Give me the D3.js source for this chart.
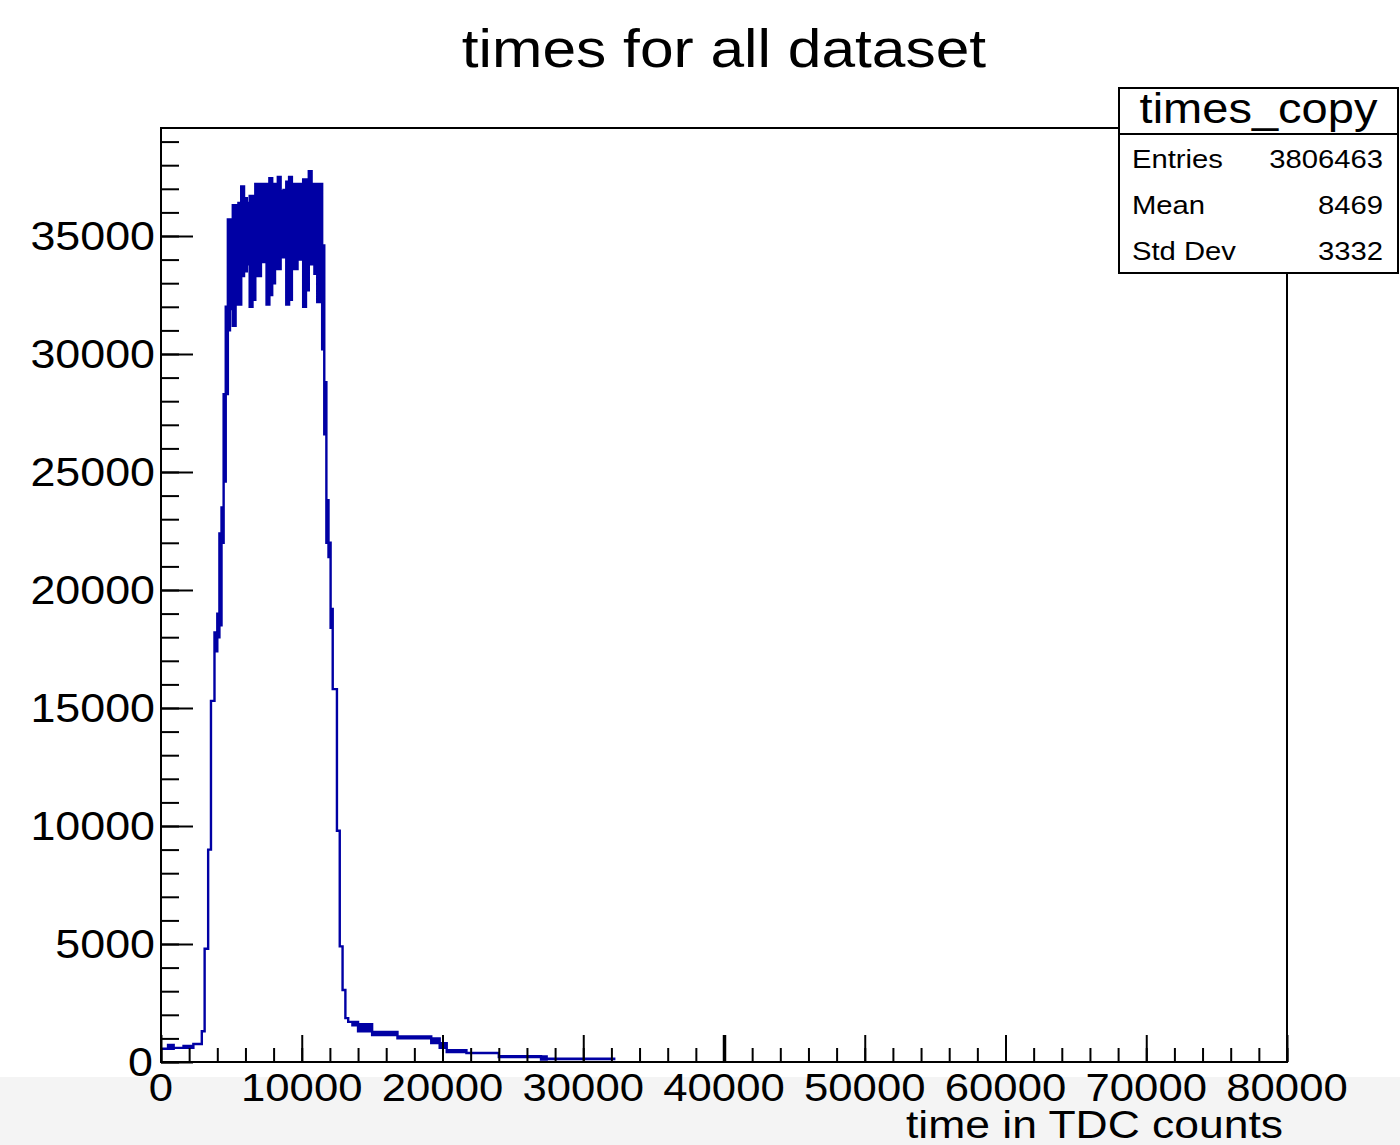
<!DOCTYPE html>
<html>
<head>
<meta charset="utf-8">
<script src="https://cdn.jsdelivr.net/npm/d3@7"></script>
<style>
  html, body { margin: 0; padding: 0; background: #ffffff; }
  svg { display: block; }
  text { font-family: "Liberation Sans", Arial, Helvetica, sans-serif; fill: #000; }
</style>
</head>
<body>
<svg id="chart" width="1400" height="1145"></svg>
<script>
// Histogram of TDC times: variable-width bins, each with the lowest and
// highest bin content found inside it (the fine bins oscillate strongly
// on the plateau, so a min/max band is kept per display bin).
const binEdges = [
  0, 500, 900, 1600, 2300, 2900, 3100, 3350, 3550, 3800, 4000, 4150, 4300,
  4450, 4600, 4750, 4900, 5100, 5300, 5500, 5700, 5900, 6100, 6300, 6500,
  6700, 6900, 7100, 7300, 7500, 7700, 7900, 8100, 8300, 8500, 8700, 8900,
  9100, 9300, 9500, 9700, 9900, 10100, 10300, 10500, 10700, 10900, 11100,
  11300, 11450, 11600, 11750, 11900, 12050, 12200, 12500, 12700, 12900,
  13100, 13300, 13600, 14000, 15000, 16800, 19200, 19800, 20300, 21700,
  24000, 27000, 27400, 32200
];
const binLow = [
  560, 560, 600, 600, 760, 1300, 4800, 9000, 15300, 17400, 18000, 18500,
  22000, 24600, 28300, 31000, 31900, 31200, 32100, 32100, 33300, 33500,
  33800, 32000, 32300, 33300, 33300, 33900, 33900, 32100, 32500, 33000,
  33600, 33600, 34100, 34100, 32100, 32300, 33600, 33600, 34000, 34000,
  32000, 32700, 33800, 33800, 33400, 32200, 34500, 30200, 26600, 22000,
  21400, 18400, 15800, 9800, 4900, 3050, 1860, 1700, 1550, 1300, 1140,
  1000, 800, 600, 420, 380, 210, 100, 120
];
const binHigh = [
  560, 720, 600, 680, 760, 1300, 4800, 9000, 15300, 18200, 19000, 22400,
  23500, 28300, 32000, 35700, 35700, 36300, 36300, 36400, 37100, 36600,
  36400, 36700, 36700, 37200, 37200, 37200, 37200, 37200, 37450, 37200,
  37200, 37500, 36900, 36950, 37300, 37500, 37200, 37200, 37200, 37200,
  37400, 37400, 37750, 37200, 37200, 37200, 37200, 34600, 28800, 23800,
  22000, 19200, 15800, 9800, 4900, 3050, 1860, 1700, 1700, 1600, 1270,
  1080, 1000, 800, 500, 380, 250, 230, 140
];

const xMajorTicks = [0, 10000, 20000, 30000, 40000, 50000, 60000, 70000, 80000];
const yMajorTicks = [0, 5000, 10000, 15000, 20000, 25000, 30000, 35000];
const xMinorTicks = d3.range(0, 80001, 2000);
const yMinorTicks = d3.range(0, 39001, 1000);

const chartTitle = "times for all dataset";
const xTitle = "time in TDC counts";
const statsName = "times_copy";
const statsRows = [["Entries", "3806463"], ["Mean", "8469"], ["Std Dev", "3332"]];

const lineColor = "#0000a4";
const stretch = 1.12;   // horizontal text stretch of the canvas

const svg = d3.select("#chart");
const frame = { left: 161, right: 1287, top: 128, bottom: 1062 };

const x = d3.scaleLinear().domain([0, 80000]).range([frame.left, frame.right]);
const y = d3.scaleLinear().domain([0, 39576]).range([frame.bottom, frame.top]);

// light grey strip at the foot of the canvas
svg.append("rect").attr("x", 0).attr("y", 1077).attr("width", 1400).attr("height", 68)
  .attr("fill", "#f4f4f4");
svg.append("rect").attr("x", 0).attr("y", 0).attr("width", 1400).attr("height", 1077)
  .attr("fill", "#ffffff");

// helper for horizontally stretched text
function label(txt, px, py, size, anchor, sx) {
  svg.append("g")
    .attr("transform", `translate(${px},${py}) scale(${sx || stretch},1)`)
    .append("text")
    .attr("x", 0).attr("y", 0)
    .attr("font-size", size)
    .attr("text-anchor", anchor || "start")
    .text(txt);
}

// histogram band: upper step line left to right, lower step line back
const bins = binLow.map((lo, i) => ({ x0: binEdges[i], x1: binEdges[i + 1], lo, hi: binHigh[i] }));
const pts = [];
bins.forEach(b => { pts.push([x(b.x0), y(b.hi)]); pts.push([x(b.x1), y(b.hi)]); });
bins.slice().reverse().forEach(b => { pts.push([x(b.x1), y(b.lo)]); pts.push([x(b.x0), y(b.lo)]); });
svg.append("path")
  .attr("d", d3.line()(pts) + "Z")
  .attr("fill", lineColor)
  .attr("stroke", lineColor)
  .attr("stroke-width", 2.4)
  .attr("stroke-linejoin", "miter");

// axis ticks, drawn inward from the frame
const yMajor = svg.append("g").attr("transform", `translate(${frame.left},0)`)
  .call(d3.axisRight(y).tickValues(yMajorTicks).tickSize(32).tickFormat(""));
const yMinor = svg.append("g").attr("transform", `translate(${frame.left},0)`)
  .call(d3.axisRight(y).tickValues(yMinorTicks).tickSize(18).tickFormat(""));
const xMajor = svg.append("g").attr("transform", `translate(0,${frame.bottom})`)
  .call(d3.axisTop(x).tickValues(xMajorTicks).tickSize(27).tickFormat(""));
const xMinor = svg.append("g").attr("transform", `translate(0,${frame.bottom})`)
  .call(d3.axisTop(x).tickValues(xMinorTicks).tickSize(14).tickFormat(""));
[yMajor, yMinor, xMajor, xMinor].forEach(g => {
  g.select(".domain").remove();
  g.selectAll(".tick line").attr("stroke", "#000").attr("stroke-width", 2);
});
xMajor.selectAll(".tick line").filter(d => d === 40000).attr("stroke-width", 3.5);

// frame
svg.append("rect")
  .attr("x", frame.left).attr("y", frame.top)
  .attr("width", frame.right - frame.left).attr("height", frame.bottom - frame.top)
  .attr("fill", "none").attr("stroke", "#000").attr("stroke-width", 2);

// tick labels
yMajorTicks.forEach(v => {
  label(String(v), v === 0 ? 153 : 155, y(v) + (v === 0 ? 14 : 14), 40, "end");
});
xMajorTicks.forEach(v => {
  label(String(v), x(v), 1101, 39, "middle");
});

// titles
label(chartTitle, 724, 67, 54, "middle");
label(xTitle, 1283, 1138, 39, "end", 1.14);

// statistics box
const box = { x: 1119, y: 88, w: 279, h: 185, split: 134 };
svg.append("rect").attr("x", box.x).attr("y", box.y).attr("width", box.w).attr("height", box.h)
  .attr("fill", "#fff").attr("stroke", "#000").attr("stroke-width", 2);
svg.append("line").attr("x1", box.x).attr("x2", box.x + box.w)
  .attr("y1", box.split).attr("y2", box.split).attr("stroke", "#000").attr("stroke-width", 2);
label(statsName, box.x + box.w / 2, 123, 42, "middle");
statsRows.forEach((r, i) => {
  const base = 168 + i * 46;
  label(r[0], 1132, base, 25, "start", 1.17);
  label(r[1], 1383, base, 25, "end", 1.17);
});
</script>
</body>
</html>
